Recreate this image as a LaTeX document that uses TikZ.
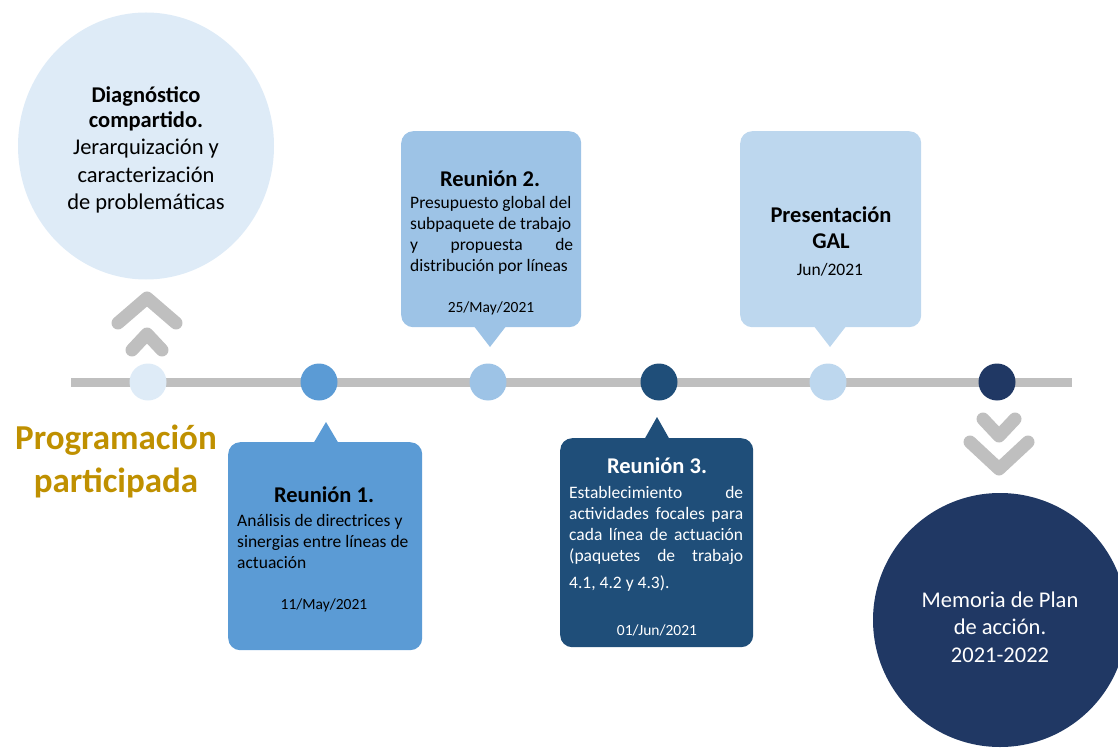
\documentclass[tikz,border=0pt]{standalone}
\usepackage{fontspec}
\setmainfont{Carlito}
\usetikzlibrary{shapes.geometric}
\definecolor{cA}{HTML}{DEEBF7}
\definecolor{cB}{HTML}{5B9BD5}
\definecolor{cC}{HTML}{9DC3E6}
\definecolor{cD}{HTML}{1F4E79}
\definecolor{cE}{HTML}{BDD7EE}
\definecolor{cF}{HTML}{203864}
\definecolor{lgray}{HTML}{BFBFBF}
\definecolor{gold}{HTML}{BF9000}
\begin{document}
\begin{tikzpicture}[x=1pt,y=-1pt,
  bubble/.style={rounded corners=12pt, minimum width=#1, inner sep=0pt, anchor=north west},
  dotnode/.style={circle, minimum size=37pt, inner sep=0pt},
  chev/.style={draw=lgray, line width=13pt, line cap=round, line join=round},
  ttl/.style={font=\fontsize{22.5}{26}\selectfont\bfseries, inner sep=0pt, anchor=base, align=center},
  bodytxt/.style={font=\fontsize{17.5}{21}\selectfont, inner sep=0pt, anchor=base west, align=justify},
  datetxt/.style={font=\fontsize{15.5}{19}\selectfont, inner sep=0pt, anchor=base},
  bigtxt/.style={font=\fontsize{22.5}{27.5}\selectfont, inner sep=0pt, anchor=base, align=center}
]
\useasboundingbox (0,0) rectangle (1118,751);
\clip (0,0) rectangle (1118,751);

% big circles
\node[ellipse, fill=cA, minimum width=256pt, minimum height=267pt, inner sep=0pt] (diag) at (146,146) {};
\node[circle, fill=cF, minimum size=254pt, inner sep=0pt] (memo) at (1000,620) {};

% timeline
\coordinate (tlstart) at (71,382);
\coordinate (tlend) at (1072,382);
\draw[lgray, line width=9pt] (tlstart) -- (tlend);
\node[dotnode, fill=cA] (d1) at (148,382) {};
\node[dotnode, fill=cB] (d2) at (319,382) {};
\node[dotnode, fill=cC] (d3) at (488,382) {};
\node[dotnode, fill=cD] (d4) at (659,382) {};
\node[dotnode, fill=cE] (d5) at (828,382) {};
\node[dotnode, fill=cF] (d6) at (997,382) {};

% chevrons
\draw[chev] (118,323) -- (147,298) -- (176,323);
\draw[chev] (132,350) -- (147,334) -- (162,350);
\draw[chev] (983,419) -- (999,436) -- (1015,419);
\draw[chev] (970,442) -- (999,469) -- (1028,442);

% bubbles
\node[bubble=194pt, minimum height=208pt, fill=cB] (b1) at (228,442) {};
\fill[cB] (313,444) -- (326,422) -- (339,444) -- cycle;
\node[bubble=180pt, minimum height=196pt, fill=cC] (b2) at (401,131) {};
\fill[cC] (473,325) -- (490,347) -- (507,325) -- cycle;
\node[bubble=193pt, minimum height=209pt, fill=cD] (b3) at (560,438) {};
\fill[cD] (644,440) -- (657,417) -- (670,440) -- cycle;
\node[bubble=181pt, minimum height=196pt, fill=cE] (b4) at (740,131) {};
\fill[cE] (813,325) -- (830,347) -- (847,325) -- cycle;

% texts
\node[bigtxt] (diagtxt) at (146,210) {\textbf{Diagnóstico}\\[-3pt]\textbf{compartido.}\\Jerarquización y\\caracterización\\de problemáticas};
\node[bigtxt, text=white] (memotxt) at (1000,662) {Memoria de Plan\\de acción.\\2021-2022};
\node[font=\fontsize{35}{43}\selectfont\bfseries, text=gold, inner sep=0pt, anchor=base, align=center] (prog) at (116,492) {Programación\\participada};

\node[ttl] (t1) at (324,502) {Reunión 1.};
\node[bodytxt, text width=180pt] (x1) at (237,526) {Análisis de directrices y\\sinergias entre líneas de\\actuación};
\node[datetxt] (dt1) at (324,609) {11/May/2021};

\node[ttl] (t2) at (490,187) {Reunión 2.};
\node[bodytxt, text width=163pt] (x2) at (410,209) {Presupuesto global del\\subpaquete de trabajo\\y\hfill propuesta\hfill de\\distribución por líneas};
\node[datetxt] (dt2) at (491,312) {25/May/2021};

\node[ttl, text=white] (t3) at (657,473) {Reunión 3.};
\node[bodytxt, text width=174pt, text=white] (x3) at (569,498) {Establecimiento\hfill de\\actividades\hfill focales\hfill para\\cada\hfill línea\hfill de\hfill actuación\\(paquetes\hfill de\hfill trabajo\\[6pt]4.1, 4.2 y 4.3).};
\node[datetxt, text=white] (dt3) at (657,635) {01/Jun/2021};

\node[ttl] (t4) at (831,249) {Presentación\\GAL};
\node[font=\fontsize{17.5}{21}\selectfont, inner sep=0pt, anchor=base] (dt4) at (830,275) {Jun/2021};
\end{tikzpicture}
\end{document}
